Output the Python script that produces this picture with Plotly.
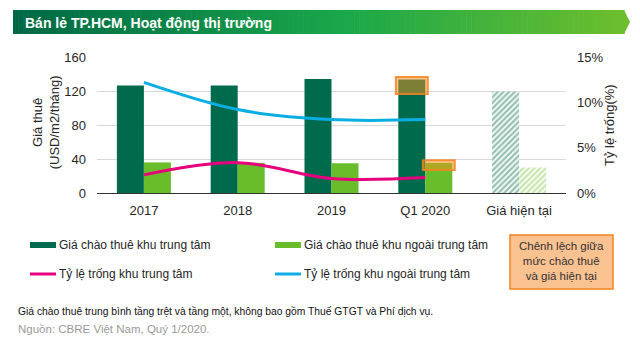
import plotly.graph_objects as go

# ---------------- data ----------------
categories = ["2017", "2018", "2019", "Q1 2020", "Giá hiện tại"]
central_rent = [126.5, 126.5, 134, 133.5, None]          # USD/m2/tháng
noncentral_rent = [36, 35.5, 35, 35.5, None]
current_central = [None, None, None, None, 119.5]
current_noncentral = [None, None, None, None, 30]
central_vacancy = [2.0, 3.35, 1.6, 1.7, None]            # %
noncentral_vacancy = [12.2, 9.2, 8.1, 8.1, None]
series_names = ["Giá chào thuê khu trung tâm", "Giá chào thuê khu ngoài trung tâm",
                "Tỷ lệ trống khu trung tâm", "Tỷ lệ trống khu ngoài trung tâm"]
y_ticks = [0, 40, 80, 120, 160]
y2_ticks = [0, 5, 10, 15]

# ---------------- style ----------------
W, H = 640, 346
ML, MR, MT, MB = 97, 74, 57, 153
PW, PH = W - ML - MR, H - MT - MB
DARK = "#006B4C"
LIGHT = "#69BC2A"
PINK = "#E6007E"
BLUE = "#0AAEE2"
ORANGE = "#F58220"
FONT = "Liberation Sans, Arial, sans-serif"
TXT = "#262626"
BW = 0.288  # bar width in category units


def px_x(px):
    return (px - ML) / PW


def px_y(py):
    return (H - MB - py) / PH


fig = go.Figure()

# offered rents
fig.add_trace(go.Bar(x=categories, y=central_rent, width=BW, offset=-BW,
                     marker=dict(color=DARK, line=dict(width=0)), showlegend=False,
                     name=series_names[0]))
fig.add_trace(go.Bar(x=categories, y=noncentral_rent, width=BW, offset=0,
                     marker=dict(color=LIGHT, line=dict(width=0)), showlegend=False,
                     name=series_names[1]))
# current (hatched)
fig.add_trace(go.Bar(x=categories, y=current_central, width=BW, offset=-BW,
                     marker=dict(color="white", line=dict(width=0),
                                 pattern=dict(shape="/", fgcolor="#2E8466", bgcolor="white",
                                              size=4, solidity=0.6)),
                     showlegend=False))
fig.add_trace(go.Bar(x=categories, y=current_noncentral, width=BW, offset=0,
                     marker=dict(color="white", line=dict(width=0),
                                 pattern=dict(shape="/", fgcolor="#92CE5E", bgcolor="white",
                                              size=4, solidity=0.6)),
                     showlegend=False))

# gap between offered and current price (orange boxes) at latest quarter
q = categories.index("Q1 2020")
pad = 3
gap_base = [current_central[-1] - pad, current_noncentral[-1] - pad]
gap_top = [central_rent[q] + pad, noncentral_rent[q] + pad]
BOXW = 0.34
for i, off in enumerate([-BW / 2 - BOXW / 2, BW / 2 - BOXW / 2]):
    fig.add_trace(go.Bar(x=[categories[q]], y=[gap_top[i] - gap_base[i]], base=[gap_base[i]],
                         width=BOXW, offset=off,
                         marker=dict(color="rgba(247,148,29,0.5)",
                                     line=dict(color="rgba(245,130,32,0.85)", width=2)),
                         showlegend=False))

# vacancy lines
fig.add_trace(go.Scatter(x=categories, y=central_vacancy, yaxis="y2", mode="lines",
                         line=dict(color=PINK, width=3, shape="spline", smoothing=1),
                         showlegend=False, name=series_names[2]))
fig.add_trace(go.Scatter(x=categories, y=noncentral_vacancy, yaxis="y2", mode="lines",
                         line=dict(color=BLUE, width=3, shape="spline", smoothing=1),
                         showlegend=False, name=series_names[3]))

shapes = []
annotations = []

# title bar with gradient
x0, x1, ty0, ty1 = 13, 624, 10, 34
stops = [(0.0, (0, 104, 70)), (0.55, (27, 168, 74)), (1.0, (108, 190, 44))]


def grad(t):
    for (a, ca), (b, cb) in zip(stops[:-1], stops[1:]):
        if a <= t <= b:
            u = (t - a) / (b - a)
            return "rgb(%d,%d,%d)" % tuple(round(ca[k] + (cb[k] - ca[k]) * u) for k in range(3))
    return "rgb(%d,%d,%d)" % stops[-1][1]


N = 120
for i in range(N):
    a = x0 + (x1 - x0) * i / N
    b = x0 + (x1 - x0) * (i + 1) / N + 0.6
    shapes.append(dict(type="rect", xref="paper", yref="paper", layer="below",
                       x0=px_x(a), x1=px_x(b), y0=px_y(ty1), y1=px_y(ty0),
                       fillcolor=grad(i / (N - 1)), line=dict(width=0)))
shapes.append(dict(type="path", xref="paper", yref="paper",
                   path="M %f %f L %f %f L %f %f Z" % (px_x(x1), px_y(ty0), px_x(x1 + 6), px_y((ty0 + ty1) / 2),
                                                      px_x(x1), px_y(ty1)),
                   fillcolor=grad(1), line=dict(width=0)))
annotations.append(dict(xref="paper", yref="paper", x=px_x(23), y=px_y(22.5), xanchor="left", yanchor="middle",
                        text="<b>Bán lẻ TP.HCM, Hoạt động thị trường</b>", showarrow=False,
                        font=dict(family=FONT, size=14, color="white")))

# axis titles
annotations.append(dict(xref="paper", yref="paper", x=px_x(46), y=0.52, textangle=-90,
                        text="Giá thuê<br>(USD/m2/tháng)", showarrow=False,
                        xanchor="center", yanchor="middle",
                        font=dict(family=FONT, size=13, color=TXT)))
annotations.append(dict(xref="paper", yref="paper", x=px_x(609), y=0.5, textangle=-90,
                        text="Tỷ lệ trống(%)", showarrow=False, xanchor="center", yanchor="middle",
                        font=dict(family=FONT, size=13, color=TXT)))

# manual legend
leg = [(30, 245, "bar", DARK), (275, 245, "bar", LIGHT), (30, 274, "line", PINK), (275, 274, "line", BLUE)]
for (lx, ly, kind, col), name in zip(leg, series_names):
    if kind == "bar":
        shapes.append(dict(type="rect", xref="paper", yref="paper", x0=px_x(lx), x1=px_x(lx + 26),
                           y0=px_y(ly + 3), y1=px_y(ly - 3), fillcolor=col, line=dict(width=0)))
    else:
        shapes.append(dict(type="line", xref="paper", yref="paper", x0=px_x(lx), x1=px_x(lx + 26),
                           y0=px_y(ly), y1=px_y(ly), line=dict(color=col, width=3)))
    annotations.append(dict(xref="paper", yref="paper", x=px_x(lx + 27), y=px_y(ly), xanchor="left",
                            yanchor="middle", text=name, showarrow=False,
                            font=dict(family=FONT, size=12, color=TXT)))

# orange note box
shapes.append(dict(type="rect", xref="paper", yref="paper", x0=px_x(510), x1=px_x(613),
                   y0=px_y(289), y1=px_y(235), fillcolor="#FAC191", line=dict(color=ORANGE, width=1.5)))
annotations.append(dict(xref="paper", yref="paper", x=px_x(561.5), y=px_y(261), xanchor="center",
                        yanchor="middle", text="Chênh lệch giữa<br>mức chào thuê<br>và giá hiện tại",
                        showarrow=False, font=dict(family=FONT, size=11.5, color="#333333")))

# footnotes
annotations.append(dict(xref="paper", yref="paper", x=px_x(16), y=px_y(311), xanchor="left", yanchor="middle",
                        text="Giá chào thuê trung bình tầng trệt và tầng một, không bao gồm Thuế GTGT và Phí dịch vụ.",
                        showarrow=False,
                        font=dict(family=FONT, size=10.3, color="#111111")))
annotations.append(dict(xref="paper", yref="paper", x=px_x(16), y=px_y(329), xanchor="left", yanchor="middle",
                        text="Nguồn: CBRE Việt Nam, Quý 1/2020.", showarrow=False,
                        font=dict(family=FONT, size=11.5, color="#9A9A9A")))

fig.update_layout(
    width=W, height=H, margin=dict(l=ML, r=MR, t=MT, b=MB, pad=0),
    paper_bgcolor="white", plot_bgcolor="white",
    barmode="overlay", showlegend=False,
    font=dict(family=FONT, size=13, color=TXT),
    shapes=shapes, annotations=annotations,
    xaxis=dict(type="category", categoryorder="array", categoryarray=categories,
               range=[-0.5, len(categories) - 0.5],
               showline=True, linecolor="#333333", linewidth=1, showgrid=False,
               ticks="", tickfont=dict(size=13, color=TXT), ticklabelstandoff=5, zeroline=False),
    yaxis=dict(range=[0, 160], tickvals=y_ticks, showgrid=True, gridcolor="#D9D9D9", gridwidth=1,
               zeroline=False, showline=False, ticks="", ticklabelstandoff=10,
               tickfont=dict(size=13, color=TXT)),
    yaxis2=dict(range=[0, 15], tickvals=y2_ticks, ticktext=[f"{v}%" for v in y2_ticks],
                overlaying="y", side="right", showgrid=False, zeroline=False, showline=False,
                ticks="", ticklabelstandoff=10, tickfont=dict(size=13, color=TXT)),
)

fig.write_html("out.html")
